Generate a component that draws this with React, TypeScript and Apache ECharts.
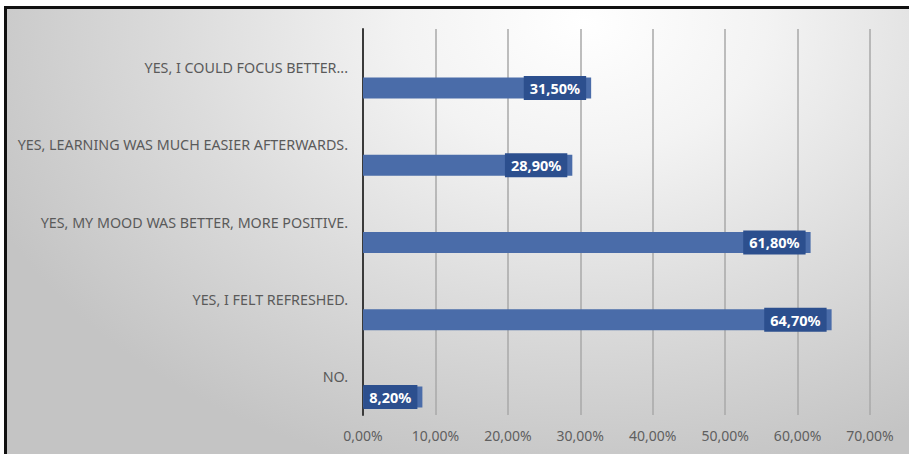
import React, { useEffect, useRef } from 'react';
import * as echarts from 'echarts';

const categories: string[] = [
  'YES, I COULD FOCUS BETTER...',
  'YES, LEARNING WAS MUCH EASIER AFTERWARDS.',
  'YES, MY MOOD WAS BETTER, MORE POSITIVE.',
  'YES, I FELT REFRESHED.',
  'NO.',
];
const values: number[] = [31.5, 28.9, 61.8, 64.7, 8.2];
const placeholder: (number | null)[] = [null, null, null, null, null];
const axisMin = 0;
const axisMax = 70;
const axisStep = 10;

const fmt = (v: number) => v.toFixed(2).replace('.', ',') + '%';

export default function App() {
  const ref = useRef<HTMLDivElement>(null);
  useEffect(() => {
    document.body.style.margin = '0';
    if (!ref.current) return;
    const chart = echarts.init(ref.current, null, { renderer: 'svg' });
    const font = '"Noto Sans", sans-serif';
    chart.setOption({
      animation: false,
      backgroundColor: 'transparent',
      grid: { left: 356, top: 20, right: 39, bottom: 39, containLabel: false },
      xAxis: {
        type: 'value',
        min: axisMin,
        max: axisMax,
        interval: axisStep,
        axisLine: { show: false },
        axisTick: { show: false },
        axisLabel: {
          formatter: (v: number) => fmt(v),
          color: '#5f5f5f',
          fontSize: 14,
          fontFamily: font,
          margin: 13,
        },
        splitLine: { show: true, lineStyle: { color: '#a8a8a8', width: 1.5 } },
      },
      yAxis: {
        type: 'category',
        data: categories,
        inverse: true,
        axisLine: { show: true, lineStyle: { color: '#3a3a3a', width: 2 } },
        axisTick: { show: false },
        axisLabel: {
          color: '#5a5a5a',
          fontSize: 14.3,
          fontFamily: font,
          margin: 15,
        },
        splitLine: { show: false },
      },
      series: [
        {
          type: 'bar',
          data: placeholder,
          barWidth: 21,
          barGap: '95%',
          silent: true,
        },
        {
          type: 'bar',
          data: values,
          barWidth: 21,
          barGap: '95%',
          itemStyle: { color: '#4a6ca9' },
          label: {
            show: true,
            position: 'insideRight',
            distance: 5,
            formatter: (p: any) => fmt(p.value),
            color: '#ffffff',
            fontWeight: 'bold',
            fontSize: 14.5,
            fontFamily: font,
            backgroundColor: '#2c4f8e',
            padding: [5, 6, 4, 6],
          },
        },
      ],
    });
    return () => chart.dispose();
  }, []);

  return (
    <div style={{ position: 'relative', width: 909, height: 454, background: '#ffffff', overflow: 'hidden' }}>
      <div
        style={{
          position: 'absolute',
          left: 4,
          top: 6,
          width: 905,
          height: 448,
          borderTop: '3px solid #111',
          borderLeft: '3px solid #111',
          boxSizing: 'border-box',
          background:
            'radial-gradient(ellipse 72% 105% at 64% 3%, #ffffff 0%, #f3f3f3 28%, #dcdcdc 62%, #c4c4c4 100%)',
        }}
      >
        <div ref={ref} style={{ width: 902, height: 445 }} />
      </div>
    </div>
  );
}
